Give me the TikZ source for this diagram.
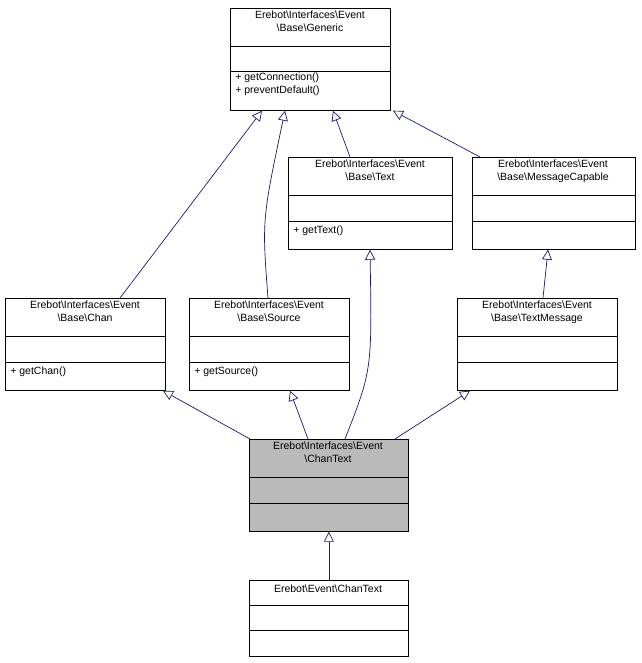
\documentclass[tikz,border=0pt]{standalone}
\usepackage{fontspec}
\setmainfont{Liberation Sans}
\usetikzlibrary{arrows.meta,calc}
\definecolor{edge}{HTML}{191970}
\begin{document}
\begin{tikzpicture}[x=1pt,y=-1pt,line width=0.7pt,
  box/.style={draw,anchor=north west,inner sep=0pt},
  ttl/.style={font=\fontsize{10.5}{12.5}\selectfont,align=center,anchor=north,inner sep=0pt},
  mth/.style={font=\fontsize{10.5}{12.5}\selectfont,align=left,anchor=north west,inner sep=0pt},
  inh/.style={draw=edge,-{Triangle[open,length=10pt,width=10pt]}}]
\useasboundingbox (0,0) rectangle (641,663);
\newcommand{\umlbox}[8]{%
  \node[box,minimum width=#4pt,minimum height=#5pt,fill=#8] (#1) at (#2,#3) {};
  \draw (#2,#3+#6) -- ++(#4,0);
  \draw (#2,#3+#7) -- ++(#4,0);}
\umlbox{gen}{230}{8}{160}{102}{38}{63}{white}
\node[ttl] at (310,11) {Erebot\textbackslash Interfaces\textbackslash Event\\\textbackslash Base\textbackslash Generic};
\node[mth] at (235,73) {+ getConnection()\\+ preventDefault()};
\umlbox{txt}{288}{157}{164}{92}{38}{64}{white}
\node[ttl] at (370,160) {Erebot\textbackslash Interfaces\textbackslash Event\\\textbackslash Base\textbackslash Text};
\node[mth] at (293,226) {+ getText()};
\umlbox{msg}{472}{157}{163}{92}{38}{64}{white}
\node[ttl] at (553,160) {Erebot\textbackslash Interfaces\textbackslash Event\\\textbackslash Base\textbackslash MessageCapable};
\umlbox{chan}{5}{298}{160}{92}{38}{64}{white}
\node[ttl] at (85,301) {Erebot\textbackslash Interfaces\textbackslash Event\\\textbackslash Base\textbackslash Chan};
\node[mth] at (10,367) {+ getChan()};
\umlbox{src}{189}{298}{160}{92}{38}{64}{white}
\node[ttl] at (269,301) {Erebot\textbackslash Interfaces\textbackslash Event\\\textbackslash Base\textbackslash Source};
\node[mth] at (194,367) {+ getSource()};
\umlbox{tm}{457}{298}{160}{92}{38}{64}{white}
\node[ttl] at (537,301) {Erebot\textbackslash Interfaces\textbackslash Event\\\textbackslash Base\textbackslash TextMessage};
\umlbox{ct}{249}{439}{159}{92}{38}{64}{black!27}
\node[ttl] at (328,442) {Erebot\textbackslash Interfaces\textbackslash Event\\\textbackslash ChanText};
\umlbox{ect}{249}{580}{159}{76}{25}{50}{white}
\node[ttl] at (328,585) {Erebot\textbackslash Event\textbackslash ChanText};
\draw[inh] (chan.north -| 120,0) -- (gen.south -| 262,0);
\draw[inh] (src.north -| 268,0) .. controls (262,220) .. (gen.south -| 285,0);
\draw[inh] (txt.north -| 350,0) -- (gen.south -| 333,0);
\draw[inh] (msg.north -| 480,0) -- (gen.south -| 393,0);
\draw[inh] (ct.north -| 250,0) -- (chan.south -| 163,0);
\draw[inh] (ct.north -| 308,0) -- (src.south -| 290,0);
\draw[inh] (ct.north -| 345,0) .. controls (372,370) .. (txt.south -| 370,0);
\draw[inh] (ct.north -| 395,0) -- (tm.south -| 470,0);
\draw[inh] (tm.north -| 543,0) -- (msg.south -| 548,0);
\draw[inh] (ect.north) -- (ct.south);
\end{tikzpicture}
\end{document}
